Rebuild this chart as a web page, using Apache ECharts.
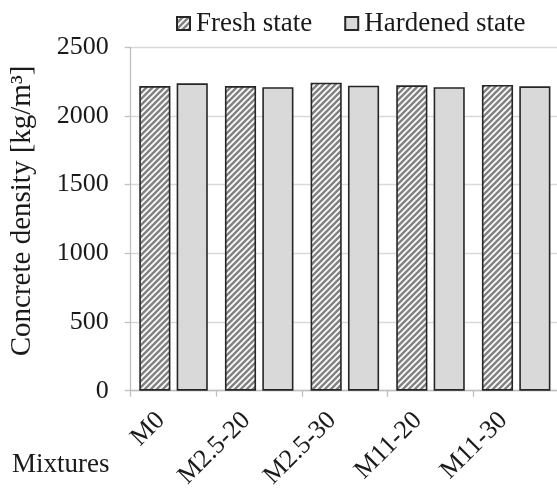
<!DOCTYPE html>
<html>
<head>
<meta charset="utf-8">
<script src="https://cdn.jsdelivr.net/npm/echarts@6/dist/echarts.min.js"></script>
<style>html,body{margin:0;padding:0;background:#fff;}#c{width:557px;height:489px;}</style>
</head>
<body>
<div id="c"></div>
<script>
var categories = ['M0', 'M2.5-20', 'M2.5-30', 'M11-20', 'M11-30'];
var freshState = [2218, 2218, 2242, 2223, 2226];
var hardenedState = [2238, 2209, 2220, 2209, 2216];
var yTicks = [0, 500, 1000, 1500, 2000, 2500];

function hatch() {
  var n = 6;
  var c = document.createElement('canvas');
  c.width = n; c.height = n;
  var g = c.getContext('2d');
  g.fillStyle = '#ffffff';
  g.fillRect(0, 0, n, n);
  g.strokeStyle = '#828282';
  g.lineWidth = 2.5;
  g.beginPath();
  for (var k = -1; k <= 1; k++) {
    g.moveTo(k * n - 1, n + 1);
    g.lineTo(k * n + n + 1, -1);
  }
  g.stroke();
  return c;
}
var font = "'Liberation Serif', 'Times New Roman', serif";
var chart = echarts.init(document.getElementById('c'));
chart.setOption({
  animation: false,
  backgroundColor: '#fff',
  textStyle: { fontFamily: font },
  legend: {
    left: 171, top: 5, itemWidth: 13, itemHeight: 13, itemGap: 32,
    icon: 'rect',
    textStyle: { fontFamily: font, fontSize: 27, color: '#1a1a1a', padding: [0, 0, 0, 1] },
    data: ['Fresh state', 'Hardened state']
  },
  grid: { left: 130.7, right: -2, top: 47.3, bottom: 98.3, containLabel: false, outerBoundsMode: 'none' },
  xAxis: {
    type: 'category',
    data: categories,
    axisLine: { lineStyle: { color: '#bfbfbf', width: 1.3 } },
    axisTick: { show: true, length: 6, lineStyle: { color: '#bfbfbf', width: 1.3 } },
    axisLabel: { rotate: 45, fontSize: 26, color: '#1a1a1a', fontFamily: font, margin: 13, padding: [0, 18, 0, 0] }
  },
  yAxis: {
    type: 'value', min: yTicks[0], max: yTicks[yTicks.length - 1], interval: 500,
    name: 'Concrete density [kg/m³]',
    nameLocation: 'middle', nameGap: 94, nameRotate: 90,
    nameTextStyle: { fontSize: 29, color: '#1a1a1a', fontFamily: font, padding: [0, 0, 0, 16] },
    axisLine: { show: true, lineStyle: { color: '#bfbfbf', width: 1.3 } },
    axisTick: { show: true, length: 6, lineStyle: { color: '#bfbfbf', width: 1.3 } },
    splitLine: { lineStyle: { color: '#d9d9d9', width: 1.3 } },
    axisLabel: { fontSize: 26, color: '#1a1a1a', fontFamily: font, margin: 22, formatter: function (v) { return String(v); } }
  },
  graphic: [{ type: 'text', left: 12, top: 451, style: { text: 'Mixtures', fontSize: 27, fontFamily: font, fill: '#1a1a1a' } }],
  series: [
    { name: 'Fresh state', type: 'bar', data: freshState, barGap: '20%', barCategoryGap: '20%',
      itemStyle: { color: { image: hatch(), repeat: 'repeat' }, borderColor: '#262626', borderWidth: 1.6 } },
    { name: 'Hardened state', type: 'bar', data: hardenedState,
      itemStyle: { color: '#d9d9d9', borderColor: '#262626', borderWidth: 1.6 } }
  ]
});
</script>
</body>
</html>
